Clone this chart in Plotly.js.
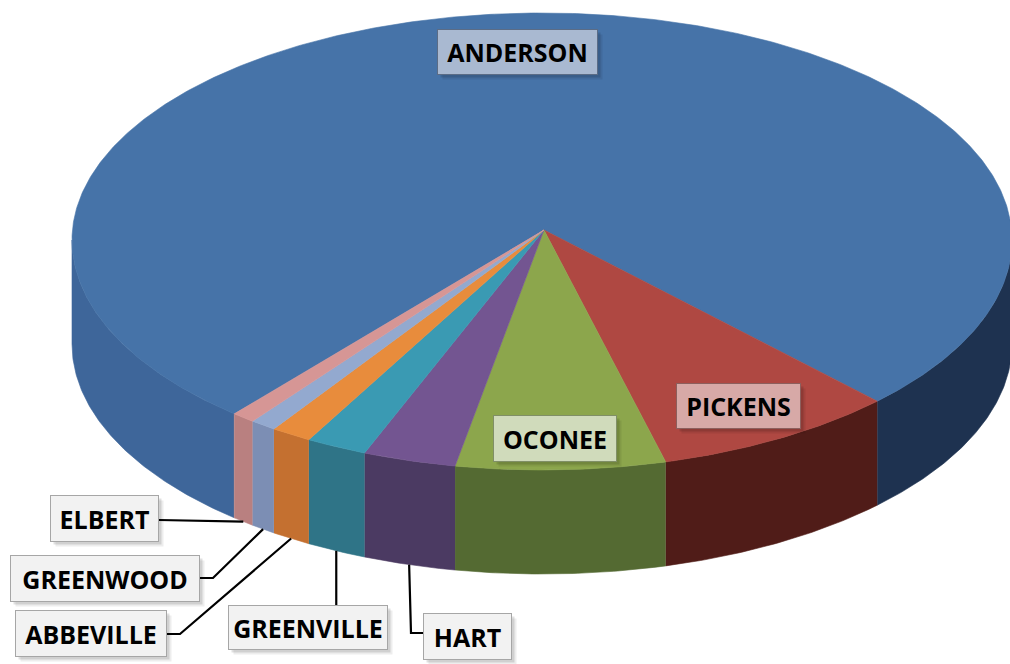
<!DOCTYPE html>
<html><head><meta charset="utf-8">
<script src="https://cdn.plot.ly/plotly-3.0.1.min.js"></script>
<style>html,body{margin:0;padding:0;background:#fff;}#chart{width:1010px;height:664px;}</style>
</head><body><div id="chart"></div>
<script>
// ---- data ----
const counties = ['ANDERSON','PICKENS','OCONEE','HART','GREENVILLE','ABBEVILLE','GREENWOOD','ELBERT'];
const shares = [76.0, 8.4, 7.2, 3.2, 2.1, 1.4, 0.9, 0.8];

// ---- styles ----
const topColors  = ['#4673A8','#AF4842','#8CA64C','#735591','#3A9AB3','#E88C3C','#93A9CF','#D69695'];
const sideColors = ['#3E669A','#501C18','#546A32','#4B3A62','#2F7487','#C47030','#7C8EB4','#B98080'];
const rightSideDark = '#1E3250';
const labelBg     = ['#A9B9D1','#D7A9A7','#D0DBBB','#F2F2F2','#F2F2F2','#F2F2F2','#F2F2F2','#F2F2F2'];
const labelBorder = ['#5B6C86','#8C5F5D','#808F66','#A6A6A6','#A6A6A6','#A6A6A6','#A6A6A6','#A6A6A6'];
const boxSize = [[161,46],[125,46],[124,47],[89,47],[160,45],[152,47],[190,47],[109,47]];
const insideFrac = [0.82,0.845,0.87];
const insideShiftX = [-9,-5,-4];
// outside label box centres and leader-line elbows
const outsideBox = {3:[467.5,636.5],4:[308,627.5],5:[91,633.5],6:[105,578.5],7:[104.5,518.5]};
const leaderElbows = {
  3:[[411,633],[423,633]],
  4:[[null,605]],
  5:[[180,634],[167,634]],
  6:[[213,578],[200,578]],
  7:[[159,520]]
};

// ---- geometry ----
const CX=542, CY=240, RX=470, RYT=227, RYB=230, DEPTH=104, START=130.9;
const APEX=[544,230];
function pt(deg, dy){
  const r=deg*Math.PI/180, s=Math.sin(r);
  return [CX+RX*Math.cos(r), CY+(s>0?RYB:RYT)*s+(dy||0)];
}
function arc(a0,a1,dy){
  const n=Math.max(2,Math.ceil(Math.abs(a1-a0)/0.5));
  const out=[];
  for(let k=0;k<=n;k++) out.push(pt(a0+(a1-a0)*k/n,dy));
  return out;
}
function poly(points,color){
  return {type:'scatter',mode:'lines',x:points.map(p=>p[0]),y:points.map(p=>p[1]),
    fill:'toself',fillcolor:color,line:{color:color,width:0.6},hoverinfo:'skip',showlegend:false};
}

const total = shares.reduce((a,b)=>a+b,0);
const angles=[]; let a=START;
shares.forEach(v=>{const b=a+v/total*360; angles.push([a,b]); a=b;});

const sides=[], tops=[], lines=[], annotations=[];
angles.forEach(([a0,a1],i)=>{
  for(let k=0;k<3;k++){
    const f0=k*360, f1=k*360+180;
    const b0=Math.max(a0,f0), b1=Math.min(a1,f1);
    if(b1>b0){
      const top=arc(b0,b1,0), bot=arc(b1,b0,DEPTH);
      const mid=(b0+b1)/2;
      const col=(i===0 && Math.cos(mid*Math.PI/180)>0)?rightSideDark:sideColors[i];
      sides.push(poly(top.concat(bot),col));
    }
  }
  tops.push(poly([APEX].concat(arc(a0,a1,0)).concat([APEX]),topColors[i]));
});

function addLabel(i,x,y){
  const [w,h]=boxSize[i];
  const common={x:x,y:y,xref:'x',yref:'y',showarrow:false,width:w-2,height:h-2,
    borderpad:0,borderwidth:1,valign:'middle',align:'center'};
  annotations.push(Object.assign({},common,{text:' ',bgcolor:'rgba(0,0,0,0.07)',bordercolor:'rgba(0,0,0,0)',xshift:5,yshift:-5}));
  annotations.push(Object.assign({},common,{text:' ',bgcolor:'rgba(0,0,0,0.12)',bordercolor:'rgba(0,0,0,0)',xshift:3,yshift:-3}));
  annotations.push(Object.assign({},common,{text:'<b>'+counties[i]+'</b>',
    font:{family:'Open Sans, Liberation Sans, sans-serif',size:25,color:'#000'},
    bgcolor:labelBg[i],bordercolor:labelBorder[i]}));
}

angles.forEach(([a0,a1],i)=>{
  const mid=(a0+a1)/2;
  if(i<3){
    const e=pt(mid,0), f=insideFrac[i];
    addLabel(i, APEX[0]+(e[0]-APEX[0])*f+insideShiftX[i], APEX[1]+(e[1]-APEX[1])*f);
  } else {
    const anchor=pt(mid,DEPTH);
    const pts=[anchor].concat(leaderElbows[i].map(p=>[p[0]===null?anchor[0]:p[0],p[1]]));
    lines.push({type:'scatter',mode:'lines',x:pts.map(p=>p[0]),y:pts.map(p=>p[1]),
      line:{color:'#000',width:2.2},hoverinfo:'skip',showlegend:false});
    addLabel(i,outsideBox[i][0],outsideBox[i][1]);
  }
});

const layout={
  width:1010,height:664,margin:{l:0,r:0,t:0,b:0},
  paper_bgcolor:'#fff',plot_bgcolor:'#fff',showlegend:false,hovermode:false,
  xaxis:{range:[0,1010],visible:false,fixedrange:true},
  yaxis:{range:[664,0],visible:false,fixedrange:true},
  annotations:annotations
};
Plotly.newPlot('chart',sides.concat(tops).concat(lines),layout,{displayModeBar:false,staticPlot:true});
</script></body></html>
